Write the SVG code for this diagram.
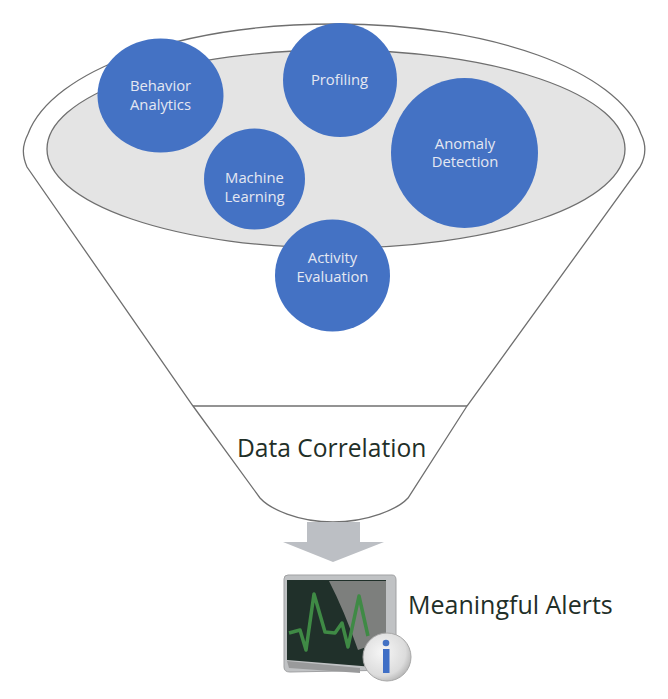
<svg xmlns="http://www.w3.org/2000/svg" width="668" height="699" viewBox="0 0 668 699">
<defs>
<style>
.c{fill:#4472c4}
.t{font-family:"Open Sans","Noto Sans","Liberation Sans",sans-serif;font-size:14.8px;fill:#e4e8f2;text-anchor:middle}
.b{font-family:"Open Sans","Noto Sans","Liberation Sans",sans-serif;font-size:24.6px;fill:#1f2f28}
.o{fill:none;stroke:#6f6f6f;stroke-width:1.3}
</style>
<radialGradient id="inf" cx="0.4" cy="0.4" r="0.7"><stop offset="0" stop-color="#f6f6f6"/><stop offset="0.7" stop-color="#dcdcdc"/><stop offset="1" stop-color="#a9a9a9"/></radialGradient>
</defs>
<g id="funnel">
<path class="o" d="M27 167C22 155 22 146 28 134C52 70 180 24 336 24C490 24 618 70 641 134C647 146 646 156 640 167L467 406L408 498C398 509 368 522 333 522C298 522 270 509 260 498L193 406Z" style="fill:#fff"/>
<line class="o" x1="193" y1="406" x2="467" y2="406"/>
<ellipse id="rim" cx="336" cy="149" rx="289" ry="99" fill="#e4e4e4" stroke="#6f6f6f" stroke-width="1.3"/>
</g>
<g id="connectors">
<polygon points="307,522 360,522 360,542 384,542 333,562 283,542 307,542" fill="#bcbfc4"/>
</g>
<g id="behavior-analytics"><ellipse class="c" cx="160.5" cy="95.500" rx="63" ry="57"/><text class="t" x="160.500" y="91">Behavior</text><text class="t" x="160.500" y="109.500">Analytics</text></g>
<g id="profiling"><ellipse class="c" cx="340" cy="80" rx="57" ry="57"/><text class="t" x="339.500" y="85">Profiling</text></g>
<g id="anomaly-detection"><ellipse class="c" cx="464.500" cy="153" rx="73.500" ry="75"/><text class="t" x="465" y="148.500">Anomaly</text><text class="t" x="465" y="167">Detection</text></g>
<g id="machine-learning"><ellipse class="c" cx="254.500" cy="179" rx="50.500" ry="50.500"/><text class="t" x="254.500" y="183">Machine</text><text class="t" x="254.500" y="201.500">Learning</text></g>
<g id="activity-evaluation"><ellipse class="c" cx="332.500" cy="275.500" rx="57.500" ry="56"/><text class="t" x="332.500" y="263">Activity</text><text class="t" x="332.500" y="281.500">Evaluation</text></g>
<g id="data-correlation"><text class="b" x="237" y="457">Data Correlation</text></g>
<g id="meaningful-alerts"><text class="b" x="408" y="614" style="font-size:25px">Meaningful Alerts</text></g>
<g id="monitor-icon">
<path d="M288 575H392Q396 575 396 580V670L290 672Q284 672 284 667V579Q284 575 288 575Z" fill="#c0c2c4" stroke="#a0a1a3" stroke-width="1"/>
<path d="M287 580H386V668L287 660Z" fill="#20302a"/>
<path d="M329 581H386V640L358 650Q344 610 329 581Z" fill="#7d7f7d"/>
<path d="M287 661L360 668V673L289 668Z" fill="#999a9b"/>
<path d="M289 633L300 630L306 650L314 594L325 632L335 633L342 623L348 647L359 596L368 636" fill="none" stroke="#3f8a45" stroke-width="3.500" stroke-linejoin="round"/>
<circle cx="387" cy="657" r="24" fill="url(#inf)" stroke="#a8a8a8" stroke-width="1"/>
<circle cx="386" cy="643" r="3.300" fill="#4472c4"/>
<rect x="383" y="649" width="6.500" height="24" fill="#3f6fc6"/>
</g>
</svg>
